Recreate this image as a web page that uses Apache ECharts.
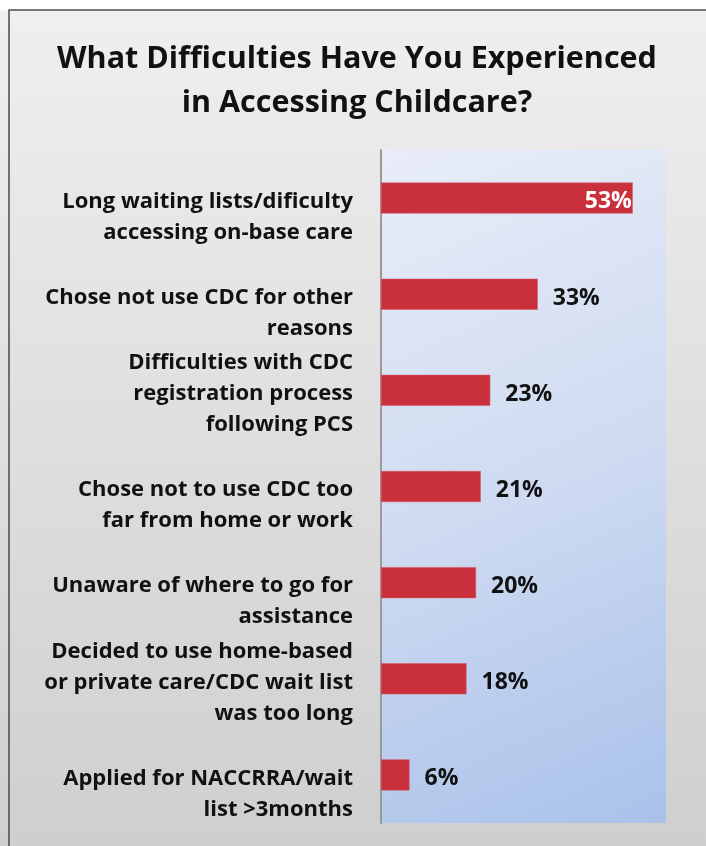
<!DOCTYPE html>
<html>
<head>
<meta charset="utf-8">
<script src="https://cdn.jsdelivr.net/npm/echarts@6/dist/echarts.min.js"></script>
<style>
  html, body { margin: 0; padding: 0; background: #ffffff; }
  #chart { width: 706px; height: 846px; }
</style>
</head>
<body>
<div id="chart"></div>
<script>
// Survey responses: difficulties in accessing childcare
const categories = [
  'Long waiting lists/dificulty\naccessing on-base care',
  'Chose not use CDC for other\nreasons',
  'Difficulties with CDC\nregistration process\nfollowing PCS',
  'Chose not to use CDC too\nfar from home or work',
  'Unaware of where to go for\nassistance',
  'Decided to use home-based\nor private care/CDC wait list\nwas too long',
  'Applied for NACCRRA/wait\nlist >3months'
];
const percentages = [53, 33, 23, 21, 20, 18, 6];
const titleText = 'What Difficulties Have You Experienced\nin Accessing Childcare?';

const FONT = '"Open Sans", Lato, sans-serif';

const chart = echarts.init(document.getElementById('chart'), null, { renderer: 'canvas' });

chart.setOption({
  animation: false,
  backgroundColor: {
    type: 'linear', x: 0, y: 0, x2: 0, y2: 1,
    colorStops: [
      { offset: 0, color: '#ffffff' },
      { offset: 0.012, color: '#ffffff' },
      { offset: 0.013, color: '#efefef' },
      { offset: 1, color: '#cfcfcf' }
    ]
  },
  graphic: [
    {
      type: 'rect',
      shape: { x: 9, y: 10, width: 720, height: 860 },
      style: { fill: null, stroke: '#4a4a4a', lineWidth: 1.5 },
      silent: true
    }
  ],
  title: {
    text: titleText,
    left: 352,
    textAlign: 'center',
    top: 32,
    textStyle: {
      fontFamily: FONT,
      fontWeight: 'bold',
      fontSize: 30.5,
      lineHeight: 44,
      color: '#111111'
    }
  },
  grid: {
    left: 381,
    top: 150,
    width: 285,
    height: 673,
    show: true,
    borderWidth: 0,
    backgroundColor: {
      type: 'linear', x: 0, y: 0, x2: 1, y2: 1,
      colorStops: [
        { offset: 0, color: '#e8edf8' },
        { offset: 0.5, color: '#cfdbf1' },
        { offset: 1, color: '#a9c1ea' }
      ]
    }
  },
  xAxis: {
    type: 'value',
    min: 0,
    max: 60,
    show: false,
    splitLine: { show: false }
  },
  yAxis: {
    type: 'category',
    data: categories,
    inverse: true,
    axisLine: { show: true, lineStyle: { color: '#9a9a9a', width: 2 } },
    axisTick: { show: false },
    axisLabel: {
      margin: 28,
      fontFamily: FONT,
      fontWeight: 'bold',
      fontSize: 22,
      lineHeight: 31,
      color: '#111111',
      align: 'right',
      verticalAlign: 'bottom',
      padding: [0, 0, -50, 0]
    }
  },
  series: [
    {
      type: 'bar',
      data: percentages.map((v, i) => ({
        value: v,
        label: i === 0
          ? { position: 'insideRight', distance: 1, color: '#ffffff', offset: [0, 3] }
          : { position: 'right', distance: 15, color: '#111111', offset: [0, 4] }
      })),
      barWidth: 31,
      itemStyle: { color: '#c9303c', borderColor: '#d85560', borderWidth: 0.5 },
      label: {
        show: true,
        formatter: '{c}%',
        fontFamily: FONT,
        fontWeight: 'bold',
        fontSize: 23
      }
    }
  ]
});
</script>
</body>
</html>
